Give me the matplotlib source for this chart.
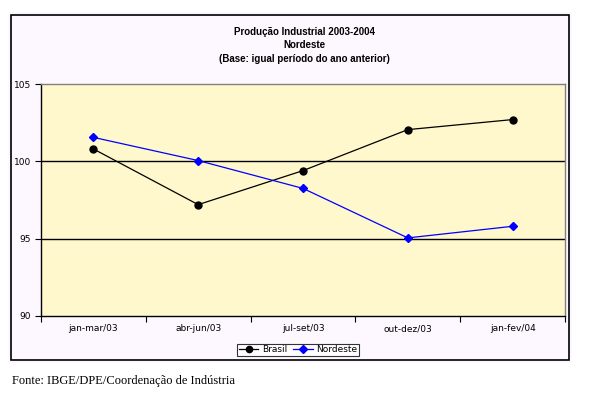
import matplotlib.pyplot as plt
from matplotlib.patches import Rectangle

periodos = ['jan-mar/03', 'abr-jun/03', 'jul-set/03', 'out-dez/03', 'jan-fev/04']
brasil = [100.8, 97.2, 99.4, 102.05, 102.7]
nordeste = [101.55, 100.05, 98.25, 95.05, 95.8]

W, H = 595, 397
fig = plt.figure(figsize=(W / 100, H / 100), dpi=100)
fig.patch.set_facecolor('white')

# chart area box
fig.patches.append(Rectangle((8 / W, 1 - 363 / H), 564 / W, 351 / H,
                             transform=fig.transFigure, facecolor='#fdf8ff',
                             edgecolor='none', zorder=-2))
fig.patches.append(Rectangle((11 / W, 1 - 360 / H), 558 / W, 345 / H,
                             transform=fig.transFigure, facecolor='none',
                             edgecolor='black', linewidth=1.2, zorder=-1))

ax = fig.add_axes([41 / W, 1 - 316 / H, 524 / W, 232 / H])
ax.set_zorder(2)
ax.set_facecolor('#fff8cc')
x = range(len(periodos))
ax.plot(x, brasil, color='black', linewidth=0.9, marker='o', markersize=5, label='Brasil', zorder=3)
ax.plot(x, nordeste, color='blue', linewidth=0.9, marker='D', markersize=4.5, label='Nordeste', zorder=3)

ax.set_xlim(-0.5, 4.5)
ax.set_ylim(90, 105)
ax.set_yticks([90, 95, 100, 105])
ax.set_xticks(list(x))
ax.set_xticklabels(periodos)
ax.set_xticks([-0.5, 0.5, 1.5, 2.5, 3.5, 4.5], minor=True)
ax.tick_params(axis='x', which='major', length=0, pad=6, labelsize=6.5)
ax.tick_params(axis='x', which='minor', length=4, direction='out', width=0.8)
ax.tick_params(axis='y', length=4, width=0.8, labelsize=6.5, pad=3)
for v in [95, 100]:
    ax.axhline(v, color='black', linewidth=1, zorder=1)
ax.spines['left'].set_color('black')
ax.spines['bottom'].set_color('black')
ax.spines['top'].set_color('#808080')
ax.spines['right'].set_color('#808080')
for s in ax.spines.values():
    s.set_linewidth(1)

fig.text(304 / W, 1 - 32 / H, 'Produção Industrial 2003-2004', ha='center', va='center',
         fontsize=7, fontweight='bold', family='Liberation Sans')
fig.text(304 / W, 1 - 45 / H, 'Nordeste', ha='center', va='center',
         fontsize=7, fontweight='bold', family='Liberation Sans')
fig.text(304 / W, 1 - 59 / H, '(Base: igual período do ano anterior)', ha='center', va='center',
         fontsize=7, fontweight='bold', family='Liberation Sans')

leg = fig.legend(loc='center', bbox_to_anchor=(298 / W, 1 - 350 / H), ncol=2,
                 fontsize=6.5, frameon=True, fancybox=False, edgecolor='black',
                 handlelength=2.2, handletextpad=0.4, columnspacing=0.6,
                 borderpad=0.2, borderaxespad=0, markerscale=0.9)
leg.get_frame().set_linewidth(0.8)
leg.get_frame().set_facecolor('white')

fig.text(12 / W, 1 - 381 / H, 'Fonte: IBGE/DPE/Coordenação de Indústria', ha='left', va='center',
         fontsize=9, family='Liberation Serif')

fig.savefig('out.png', dpi=100)
